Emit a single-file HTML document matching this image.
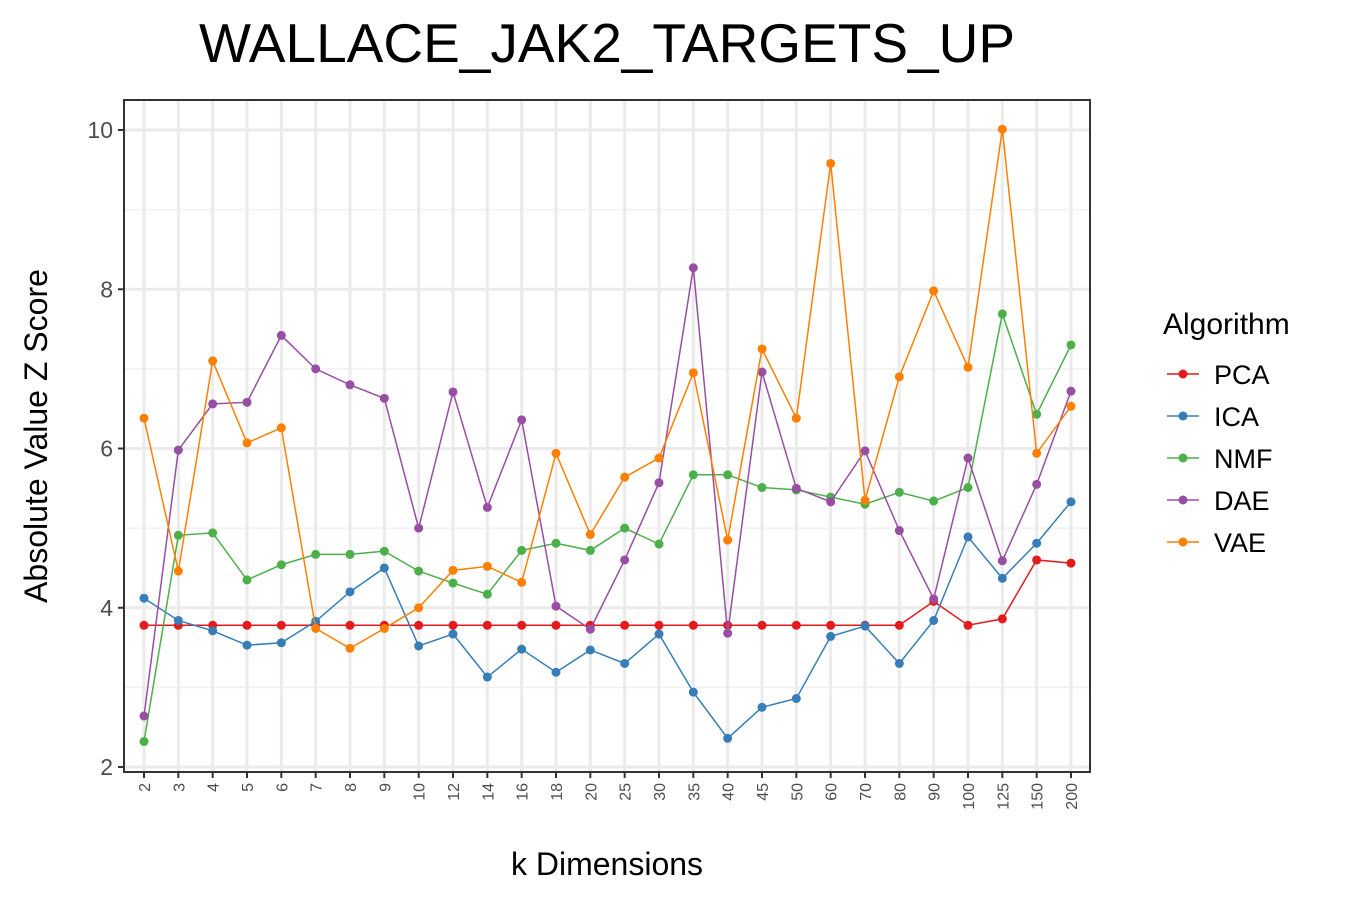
<!DOCTYPE html>
<html><head><meta charset="utf-8"><style>
body{margin:0;background:#fff;font-family:"Liberation Sans",Arial,sans-serif}
svg text{font-family:"Liberation Sans",Arial,sans-serif}
</style></head><body>
<svg id="chart" width="1350" height="900" xmlns="http://www.w3.org/2000/svg">
<rect width="1350" height="900" fill="#fff"/>
<text x="607" y="62" font-size="55" text-anchor="middle" fill="#000">WALLACE_JAK2_TARGETS_UP</text>
<g id="grid"></g>
<g id="series"></g>
<rect x="124" y="100" width="966" height="672" fill="none" stroke="#333" stroke-width="2"/>
<g id="axes"></g>
<text x="607" y="875" font-size="32" text-anchor="middle" fill="#000">k Dimensions</text>
<text transform="translate(47,436) rotate(-90)" font-size="32" text-anchor="middle" fill="#000">Absolute Value Z Score</text>
<g id="legend"></g>
</svg>
<script>
const categories=["2","3","4","5","6","7","8","9","10","12","14","16","18","20","25","30","35","40","45","50","60","70","80","90","100","125","150","200"];
const yTicks=[2,4,6,8,10];
const seriesNames=["PCA","ICA","NMF","DAE","VAE"];
const seriesColors=["#e41a1c","#377eb8","#4daf4a","#984ea3","#ff7f00"];
const pca=[3.78,3.78,3.78,3.78,3.78,3.78,3.78,3.78,3.78,3.78,3.78,3.78,3.78,3.78,3.78,3.78,3.78,3.78,3.78,3.78,3.78,3.78,3.78,4.08,3.78,3.86,4.6,4.56];
const ica=[4.12,3.84,3.71,3.53,3.56,3.83,4.2,4.5,3.52,3.67,3.13,3.48,3.19,3.47,3.3,3.67,2.94,2.36,2.75,2.86,3.64,3.77,3.3,3.84,4.89,4.37,4.81,5.33];
const nmf=[2.32,4.91,4.94,4.35,4.54,4.67,4.67,4.71,4.46,4.31,4.17,4.72,4.81,4.72,5.0,4.8,5.67,5.67,5.51,5.48,5.39,5.3,5.45,5.34,5.51,7.69,6.43,7.3];
const dae=[2.64,5.98,6.56,6.58,7.42,7.0,6.8,6.63,5.0,6.71,5.26,6.36,4.02,3.73,4.6,5.57,8.27,3.68,6.96,5.5,5.33,5.97,4.97,4.11,5.88,4.59,5.55,6.72];
const vae=[6.38,4.46,7.1,6.07,6.26,3.74,3.49,3.74,4.0,4.47,4.52,4.32,5.94,4.92,5.64,5.88,6.95,4.85,7.25,6.38,9.58,5.35,6.9,7.98,7.02,10.01,5.94,6.53];
const allSeries=[pca,ica,nmf,dae,vae];
const NS="http://www.w3.org/2000/svg";
const X0=144,X1=1071,Y2=767,Y10=130;
function xs(i){return X0+(X1-X0)*i/(categories.length-1);}
function ys(v){return Y2-(v-2)*(Y2-Y10)/8;}
function mk(tag,attrs,parent){const e=document.createElementNS(NS,tag);for(const k in attrs)e.setAttribute(k,attrs[k]);parent.appendChild(e);return e;}
const grid=document.getElementById('grid'),axes=document.getElementById('axes'),ser=document.getElementById('series'),leg=document.getElementById('legend');
mk('rect',{x:124,y:100,width:966,height:672,fill:'#fff'},grid);
for(let v=3;v<=10;v+=2){const l=mk('line',{x1:124,x2:1090,y1:ys(v),y2:ys(v),stroke:'#f0f0f0','stroke-width':1.5},grid);

}
yTicks.forEach(v=>{const l=mk('line',{x1:124,x2:1090,y1:ys(v),y2:ys(v),stroke:'#ebebeb','stroke-width':3},grid);


const t=mk('line',{x1:118,x2:124,y1:ys(v),y2:ys(v),stroke:'#333','stroke-width':2},axes);


const tx=mk('text',{x:113,y:ys(v)+8,'font-size':23,'text-anchor':'end',fill:'#4d4d4d'},axes);tx.textContent=v;

});
categories.forEach((c,i)=>{const x=xs(i);
const l=mk('line',{x1:x,x2:x,y1:100,y2:772,stroke:'#ebebeb','stroke-width':3},grid);


const t=mk('line',{x1:x,x2:x,y1:772,y2:778,stroke:'#333','stroke-width':2},axes);


const tx=mk('text',{transform:`translate(${x+6},783) rotate(-90)`,'font-size':16,'text-anchor':'end',fill:'#4d4d4d'},axes);tx.textContent=c;

});
allSeries.forEach((d,s)=>{const col=seriesColors[s];
const p=mk('polyline',{points:d.map((v,i)=>xs(i)+','+ys(v)).join(' '),fill:'none',stroke:col,'stroke-width':1.5},ser);


d.forEach((v,i)=>{const c=mk('circle',{cx:xs(i),cy:ys(v),r:4.5,fill:col},ser);

});});
const lt=mk('text',{x:1163,y:334,'font-size':30,fill:'#000'},leg);lt.textContent='Algorithm';


seriesNames.forEach((n,s)=>{const y=374+s*42;
const g=mk('g',{},leg);


mk('line',{x1:1167,x2:1199,y1:y,y2:y,stroke:seriesColors[s],'stroke-width':1.5},g);
mk('circle',{cx:1183,cy:y,r:4.5,fill:seriesColors[s]},g);
const t=mk('text',{x:1214,y:y+10,'font-size':27,fill:'#000'},g);t.textContent=n;});
</script>
</body></html>
